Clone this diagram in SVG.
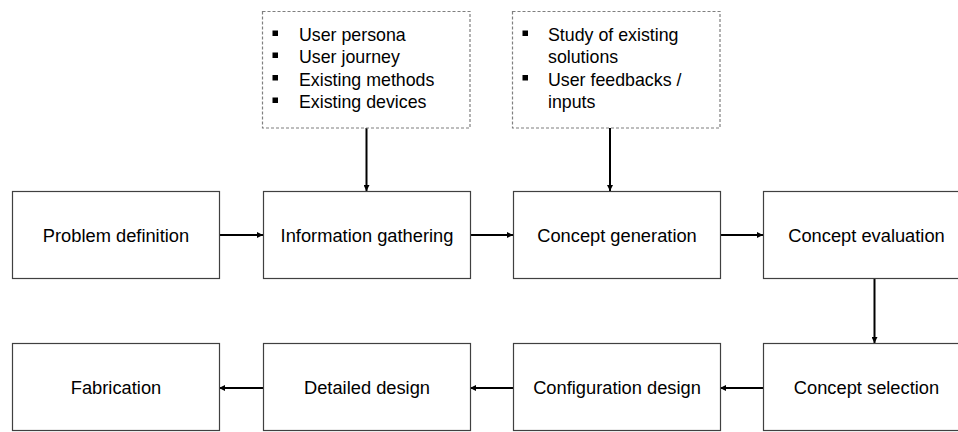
<svg xmlns="http://www.w3.org/2000/svg" width="958" height="432" viewBox="0 0 958 432">
  <style>
    .box { fill: #ffffff; stroke: #404040; stroke-width: 1.2; }
    .dbox { fill: #ffffff; stroke: #7f7f7f; stroke-width: 1.2; stroke-dasharray: 3 2; }
    .label { font-family: "Liberation Sans", Arial, sans-serif; font-size: 18.3px; fill: #000000; text-anchor: middle; }
    .item { font-family: "Liberation Sans", Arial, sans-serif; font-size: 17.8px; fill: #000000; }
    .bullet { fill: #000000; }
    .link { stroke: #000000; stroke-width: 2; fill: none; marker-end: url(#head); }
  </style>
  <defs>
    <marker id="head" viewBox="0 0 6 6" refX="6" refY="3" markerWidth="6" markerHeight="6" markerUnits="userSpaceOnUse" orient="auto">
      <path d="M0,0 L6,3 L0,6 Z" fill="#000000"/>
    </marker>
  </defs>

  <rect width="958" height="432" fill="#ffffff"/>

  <!-- connectors -->
  <g id="connectors">
    <line class="link" x1="366.5" y1="128" x2="366.5" y2="191"/>
    <line class="link" x1="610" y1="128" x2="610" y2="191"/>
    <line class="link" x1="219" y1="235" x2="263" y2="235"/>
    <line class="link" x1="470" y1="235" x2="513" y2="235"/>
    <line class="link" x1="720" y1="235" x2="763" y2="235"/>
    <line class="link" x1="874.5" y1="279" x2="874.5" y2="343"/>
    <line class="link" x1="763" y1="388" x2="720" y2="388"/>
    <line class="link" x1="513" y1="388" x2="470" y2="388"/>
    <line class="link" x1="263" y1="388" x2="219" y2="388"/>
  </g>

  <!-- input notes -->
  <g id="note-research">
    <rect class="dbox" x="262.5" y="11.5" width="207.5" height="116.5"/>
    <rect class="bullet" x="272.5" y="30.5" width="5.5" height="5.5"/>
    <rect class="bullet" x="272.5" y="52.5" width="5.5" height="5.5"/>
    <rect class="bullet" x="272.5" y="75" width="5.5" height="5.5"/>
    <rect class="bullet" x="272.5" y="97.5" width="5.5" height="5.5"/>
    <text class="item" x="299" y="41">User persona</text>
    <text class="item" x="299" y="63">User journey</text>
    <text class="item" x="299" y="85.5">Existing methods</text>
    <text class="item" x="299" y="108">Existing devices</text>
  </g>

  <g id="note-ideas">
    <rect class="dbox" x="512.5" y="11.5" width="207.5" height="116.5"/>
    <rect class="bullet" x="522.5" y="30.5" width="5.5" height="5.5"/>
    <rect class="bullet" x="522.5" y="75" width="5.5" height="5.5"/>
    <text class="item" x="548" y="41">Study of existing</text>
    <text class="item" x="548" y="63">solutions</text>
    <text class="item" x="548" y="85.5">User feedbacks /</text>
    <text class="item" x="548" y="108">inputs</text>
  </g>

  <!-- process steps, top row -->
  <g id="problem-definition">
    <rect class="box" x="12.5" y="191.5" width="207" height="87"/>
    <text class="label" x="116" y="241.5">Problem definition</text>
  </g>
  <g id="information-gathering">
    <rect class="box" x="263.5" y="191.5" width="207" height="87"/>
    <text class="label" x="367" y="241.5">Information gathering</text>
  </g>
  <g id="concept-generation">
    <rect class="box" x="513.5" y="191.5" width="207" height="87"/>
    <text class="label" x="617" y="241.5">Concept generation</text>
  </g>
  <g id="concept-evaluation">
    <rect class="box" x="763.5" y="191.5" width="207" height="87"/>
    <text class="label" x="866.5" y="241.5">Concept evaluation</text>
  </g>

  <!-- process steps, bottom row -->
  <g id="fabrication">
    <rect class="box" x="12.5" y="343.5" width="207" height="87"/>
    <text class="label" x="116" y="394">Fabrication</text>
  </g>
  <g id="detailed-design">
    <rect class="box" x="263.5" y="343.5" width="207" height="87"/>
    <text class="label" x="367" y="394">Detailed design</text>
  </g>
  <g id="configuration-design">
    <rect class="box" x="513.5" y="343.5" width="207" height="87"/>
    <text class="label" x="617" y="394">Configuration design</text>
  </g>
  <g id="concept-selection">
    <rect class="box" x="763.5" y="343.5" width="207" height="87"/>
    <text class="label" x="866.5" y="394">Concept selection</text>
  </g>
</svg>
